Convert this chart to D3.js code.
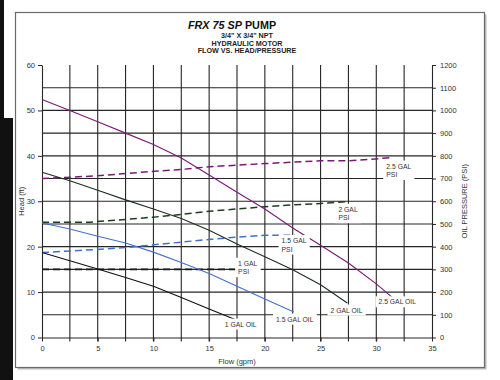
<!DOCTYPE html>
<html><head><meta charset="utf-8">
<script src="https://cdn.jsdelivr.net/npm/d3@7"></script>
<style>
html,body{margin:0;padding:0;background:#fff;}
svg{display:block;font-family:"Liberation Sans",Arial,sans-serif;}
</style></head>
<body><svg id="c" width="500" height="380"></svg>
<script>
// ---- data ----
const flow1Oil = [0,2.5,5,7.5,10,12.5,15,17.5];
const head1Oil = [18.7,16.9,15.1,13.2,11.3,8.8,6.3,3.8];
const flow15Oil = [0,2.5,5,7.5,10,12.5,15,17.5,20,22.6];
const head15Oil = [25.2,23.9,22.3,20.8,18.8,16.5,14.1,11.3,8.5,5.6];
const flow2Oil = [0,2.5,5,7.5,10,12.5,15,17.5,20,22.5,25,27.4];
const head2Oil = [36.4,34.5,32.4,30.3,28.3,26.2,23.6,20.6,17.8,14.9,11.6,7.6];
const flow25Oil = [0,2.5,5,7.5,10,12.5,15,17.5,20,22.5,25,27.5,30,31.4];
const head25Oil = [52.4,50,47.5,45,42.5,39.5,35.8,32.0,28.3,24.1,20.3,16.4,11.8,8.9];

const flow1Psi = [0,14,17.5];
const psi1 = [300,300,300];
const flow15Psi = [0,5,7.5,10,12.5,15,17.5,20,22.7];
const psi15 = [374,388,396,408,420,432,442,450,450];
const flow2Psi = [0,4.3,7.5,10,12.5,15,17.5,20,22.5,25,27.4];
const psi2 = [508,508,520,530,542,556,566,576,584,590,598];
const flow25Psi = [0,5,10,12.5,15,20,22.5,25,27.5,31.4];
const psi25 = [700,712,732,740,752,766,772,778,778,792];

const xTicks = [0,5,10,15,20,25,30,35];
const headTicks = [0,10,20,30,40,50,60];
const psiTicks = [0,100,200,300,400,500,600,700,800,900,1000,1100,1200];

const titleMain = "FRX 75 SP";
const titleEnd = " PUMP";
const subTitles = ["3/4\" X 3/4\" NPT","HYDRAULIC MOTOR","FLOW VS. HEAD/PRESSURE"];
const labelTexts = [["2.5 GAL","PSI"],["2 GAL","PSI"],["1.5 GAL","PSI"],["1 GAL","PSI"],
                    ["2.5 GAL OIL"],["2 GAL OIL"],["1.5 GAL OIL"],["1 GAL OIL"]];
const labelFlow = [30.9,26.6,21.5,17.6,30.2,25.9,21.0,16.4];
const labelHead = [37.2,27.7,20.8,15.8,7.3,5.5,3.5,2.4];

// ---- layout ----
const svg = d3.select("#c");
const x = d3.scaleLinear().domain([0,35]).range([42,432]);
const yL = d3.scaleLinear().domain([0,60]).range([337.5,65]);
const yR = d3.scaleLinear().domain([0,1200]).range([337.5,65]);
const gridCol = "#262626";

// page edge + frame
svg.append("rect").attr("x",0).attr("y",0).attr("width",4).attr("height",380).attr("fill","#111");
svg.append("rect").attr("x",0).attr("y",118).attr("width",13).attr("height",262).attr("fill","#111");
svg.append("rect").attr("x",17.5).attr("y",14.5).attr("width",469).attr("height",355).attr("fill","#bbb");
svg.append("rect").attr("x",15.5).attr("y",12.5).attr("width",469).attr("height",355)
  .attr("fill","#fff").attr("stroke","#6a6a6a").attr("stroke-width",1.2);

// grid
const g = svg.append("g");
g.selectAll(".vg").data(d3.range(2.5,35,2.5)).join("line")
  .attr("x1",d=>x(d)).attr("x2",d=>x(d)).attr("y1",yL(0)+4).attr("y2",yL(60))
  .attr("stroke",gridCol).attr("stroke-width",1.1);
g.selectAll(".hg").data(d3.range(5,60,5)).join("line")
  .attr("x1",x(0)).attr("x2",x(35)).attr("y1",d=>yL(d)).attr("y2",d=>yL(d))
  .attr("stroke",gridCol).attr("stroke-width",1.1);

// axes
function styleAxis(sel){
  sel.selectAll("path.domain").attr("stroke",gridCol).attr("stroke-width",1.1);
  sel.selectAll(".tick line").attr("stroke",gridCol);
  sel.selectAll(".tick text").attr("fill","#333").style("font-size","7.5px")
     .style("font-family","'Liberation Sans',Arial,sans-serif");
}
const fmt = d3.format("d");
const axL = svg.append("g").attr("transform",`translate(${x(0)},0)`)
  .call(d3.axisLeft(yL).tickValues(headTicks).tickFormat(fmt).tickSize(4).tickSizeOuter(0).tickPadding(3));
styleAxis(axL);
const axR = svg.append("g").attr("transform",`translate(${x(35)},0)`)
  .call(d3.axisRight(yR).tickValues(psiTicks).tickFormat(fmt).tickSize(4).tickSizeOuter(0).tickPadding(4));
styleAxis(axR);
const axB = svg.append("g").attr("transform",`translate(0,${yL(0)})`)
  .call(d3.axisBottom(x).tickValues(xTicks).tickFormat(fmt).tickSize(4).tickSizeOuter(0).tickPadding(4));
styleAxis(axB);

// axis titles
svg.append("text").attr("transform",`translate(24,${(yL(0)+yL(60))/2}) rotate(-90)`)
  .attr("text-anchor","middle").attr("fill","#333").style("font-size","7.5px").text("Head (ft)");
svg.append("text").attr("transform",`translate(467,${(yL(0)+yL(60))/2}) rotate(-90)`)
  .attr("text-anchor","middle").attr("fill","#333").style("font-size","7.5px").text("OIL PRESSURE (PSI)");
svg.append("text").attr("x",(x(0)+x(35))/2).attr("y",364)
  .attr("text-anchor","middle").attr("fill","#333").style("font-size","7.5px").text("Flow (gpm)");

// title
const t = svg.append("text").attr("x",232).attr("y",28.5).attr("text-anchor","middle")
  .style("font-size","10.8px").style("font-weight","bold").attr("fill","#111");
t.append("tspan").style("font-style","italic").text(titleMain);
t.append("tspan").text(titleEnd);
subTitles.forEach((s,i)=>{
  svg.append("text").attr("x",247).attr("y",38+i*7.5).attr("text-anchor","middle")
    .style("font-size","7.2px").style("font-weight","bold").attr("fill","#222").text(s);
});

// series
const series = [
  {fx:flow25Psi, fy:psi25, sc:yR, col:"#7a1a78", dash:"7,4", w:1.5},
  {fx:flow2Psi,  fy:psi2,  sc:yR, col:"#1d3d1f", dash:"7,4", w:1.5},
  {fx:flow15Psi, fy:psi15, sc:yR, col:"#3f6fd0", dash:"7,4", w:1.5},
  {fx:flow1Psi,  fy:psi1,  sc:yR, col:"#1a1a1a", dash:"7,4", w:1.7},
  {fx:flow25Oil, fy:head25Oil, sc:yL, col:"#7a1a78", dash:null, w:1.1},
  {fx:flow2Oil,  fy:head2Oil,  sc:yL, col:"#1d2f1d", dash:null, w:1.1},
  {fx:flow15Oil, fy:head15Oil, sc:yL, col:"#4470cc", dash:null, w:1.1},
  {fx:flow1Oil,  fy:head1Oil,  sc:yL, col:"#111",    dash:null, w:1.1}
];
series.forEach(s=>{
  const pts = s.fx.map((v,i)=>[v,s.fy[i]]);
  const line = d3.line().x(d=>x(d[0])).y(d=>s.sc(d[1]));
  svg.append("path").attr("d",line(pts)).attr("fill","none").attr("stroke",s.col)
    .attr("stroke-width",s.w).attr("stroke-dasharray",s.dash);
});

// labels
labelTexts.forEach((lines,i)=>{
  const lx = x(labelFlow[i]), ly = yL(labelHead[i]);
  const grp = svg.append("g");
  const txt = grp.append("text").attr("x",lx).attr("y",ly).attr("fill","#333").style("font-size","6.8px");
  lines.forEach((l,j)=>txt.append("tspan").attr("x",lx).attr("dy",j===0?0:8.5).text(l));
  const bb = txt.node().getBBox();
  grp.insert("rect","text").attr("x",bb.x-3).attr("y",bb.y-2).attr("width",bb.width+6).attr("height",bb.height+4).attr("fill","#fff");
});
</script></body></html>
